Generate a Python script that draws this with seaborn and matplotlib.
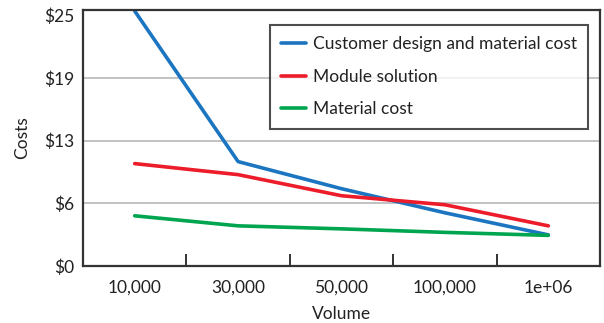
import matplotlib
matplotlib.use("Agg")
import matplotlib.pyplot as plt
import seaborn as sns
import pandas as pd
import numpy as np

volumes = ["10,000", "30,000", "50,000", "100,000", "1e+06"]
series_names = ["Customer design and material cost", "Module solution", "Material cost"]
customer_design = [25.4, 10.4, 7.7, 5.3, 3.1]
module_solution = [10.2, 9.1, 7.0, 6.1, 4.0]
material_cost = [5.0, 4.0, 3.7, 3.35, 3.05]
y_ticks = [0, 6.25, 12.5, 18.75, 25]
y_tick_labels = ["$0", "$6", "$13", "$19", "$25"]
colors = ["#1b75c0", "#ec1c2a", "#00a54f"]

sns.set_theme(style="white")
plt.rcParams["font.family"] = ["Lato", "DejaVu Sans"]

rows = []
for name, vals in zip(series_names, [customer_design, module_solution, material_cost]):
    for i, v in enumerate(vals):
        rows.append({"Volume": i + 0.5, "Cost": v, "Series": name})
df = pd.DataFrame(rows)

fig = plt.figure(figsize=(6.04, 3.23), dpi=100)
ax = fig.add_axes([83 / 604, 1 - 266 / 323, 517 / 604, 256 / 323])

for y in y_ticks[1:-1]:
    ax.axhline(y, color="#bdbdbd", lw=1.3, zorder=0)

sns.lineplot(data=df, x="Volume", y="Cost", hue="Series", hue_order=series_names,
             palette=colors, linewidth=2.6, ax=ax, legend=True)

ax.set_xlim(0, 5)
ax.set_ylim(0, 25.5)
ax.set_yticks(y_ticks)
ax.set_yticklabels(y_tick_labels, fontsize=12.5, color="#222222")
ax.set_xticks(np.arange(1, 5))
ax.set_xticklabels([])
ax.set_xticks(np.arange(len(volumes)) + 0.5, minor=True)
ax.set_xticklabels(volumes, minor=True, fontsize=12.5, color="#222222")
ax.tick_params(axis="x", which="major", direction="in", length=9, width=1.4,
               color="#333333", bottom=True)
ax.tick_params(axis="x", which="minor", length=0, pad=10)
ax.tick_params(axis="y", length=0, pad=6)
ax.set_xlabel("Volume", fontsize=12.5, color="#222222", labelpad=7)
ax.set_ylabel("Costs", fontsize=12.5, color="#222222", labelpad=10)

for s in ax.spines.values():
    s.set_visible(True)
    s.set_color("#333333")
    s.set_linewidth(1.6)

leg = ax.legend(loc="upper right", bbox_to_anchor=(588 / 604, 1 - 25 / 323),
                bbox_transform=fig.transFigure, fontsize=12.5, frameon=True,
                fancybox=False, handlelength=1.4, handletextpad=0.4,
                borderpad=0.65, labelspacing=0.95, borderaxespad=0)
leg.get_frame().set_edgecolor("#222222")
leg.get_frame().set_linewidth(1.5)
for t in leg.get_texts():
    t.set_color("#222222")

fig.savefig("out.png", dpi=100)
